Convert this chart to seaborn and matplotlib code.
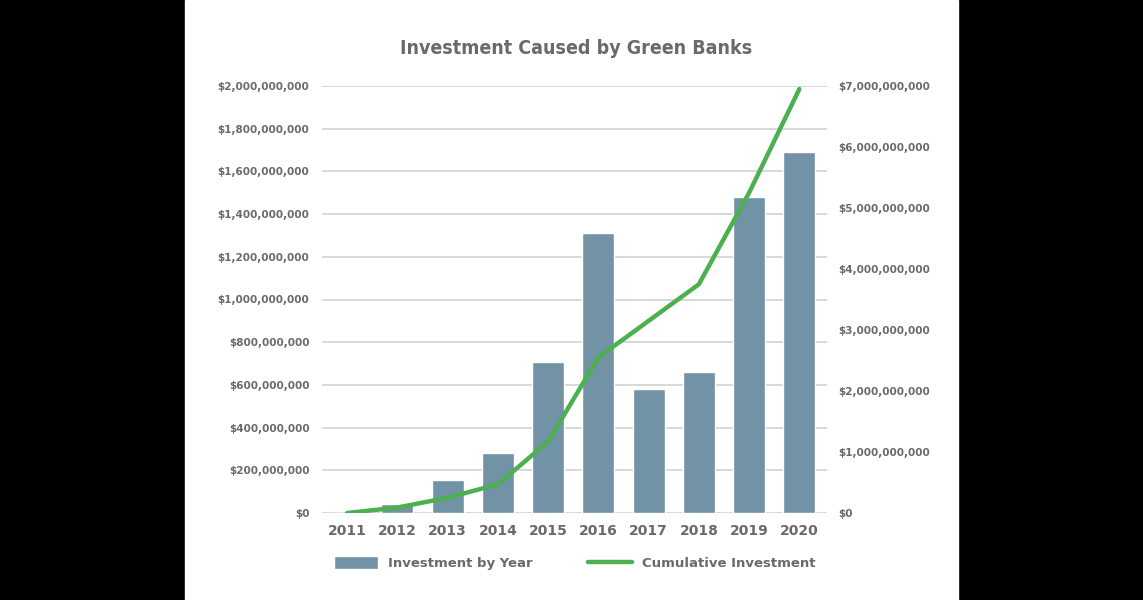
import seaborn as sns
import matplotlib.pyplot as plt
import matplotlib.ticker as mticker
from matplotlib.patches import Rectangle
import pandas as pd

years = ["2011", "2012", "2013", "2014", "2015", "2016", "2017", "2018", "2019", "2020"]
by_year = [0, 42e6, 155e6, 281e6, 707e6, 1311e6, 581e6, 660e6, 1480e6, 1691e6]
cumulative = [0, 0.09e9, 0.25e9, 0.47e9, 1.17e9, 2.55e9, 3.15e9, 3.75e9, 5.25e9, 6.95e9]

df = pd.DataFrame({"year": years, "by_year": by_year, "cumulative": cumulative})

sns.set_theme(style="white")
plt.rcParams['font.family'] = ['DejaVu Sans']

grey = "#6a6a6a"
bar_color = "#7293a6"
line_color = "#4caf50"

fig = plt.figure(figsize=(11.43, 6), dpi=100)
fig.set_facecolor("black")
# white card in the middle, black bands on both sides
fig.patches.append(Rectangle((185 / 1143, 0), (958 - 185) / 1143, 1,
                             transform=fig.transFigure, color="white", zorder=-1))

ax = fig.add_axes([322 / 1143, 1 - 513 / 600, (827 - 322) / 1143, (513 - 86) / 600])
ax.set_facecolor("none")
sns.barplot(data=df, x="year", y="by_year", color=bar_color, saturation=1,
            width=0.64, ax=ax, label="Investment by Year")
ax.set_ylim(0, 2e9)
ax.set_xlim(-0.5, 9.55)
ax.yaxis.set_major_locator(mticker.MultipleLocator(2e8))
ax.yaxis.set_major_formatter(mticker.FuncFormatter(lambda v, p: "\\$" + f"{v:,.0f}"))
ax.grid(axis="y", color="#d6d6d6", linewidth=1.3)
ax.set_axisbelow(True)
ax.set_xlabel("")
ax.set_ylabel("")
for s in ax.spines.values():
    s.set_visible(False)
ax.tick_params(axis="y", length=0, pad=9, labelsize=7.5, labelcolor=grey)
ax.tick_params(axis="x", length=0, pad=8, labelsize=10, labelcolor=grey)
for t in ax.get_yticklabels():
    t.set_fontweight("bold")
for t in ax.get_xticklabels():
    t.set_fontweight("bold")

ax2 = ax.twinx()
sns.lineplot(data=df, x="year", y="cumulative", color=line_color, linewidth=3.2,
             ax=ax2, label="Cumulative Investment", legend=False)
ax2.set_ylim(0, 7e9)
ax2.set_xlim(-0.5, 9.55)
ax2.yaxis.set_major_locator(mticker.MultipleLocator(1e9))
ax2.yaxis.set_major_formatter(mticker.FuncFormatter(lambda v, p: "\\$" + f"{v:,.0f}"))
ax2.set_ylabel("")
ax2.grid(False)
for s in ax2.spines.values():
    s.set_visible(False)
ax2.tick_params(axis="y", length=0, pad=8, labelsize=7.5, labelcolor=grey)
for t in ax2.get_yticklabels():
    t.set_fontweight("bold")
if ax.get_legend() is not None:
    ax.get_legend().remove()

h1, l1 = ax.get_legend_handles_labels()
h2, l2 = ax2.get_legend_handles_labels()
leg = fig.legend(h1 + h2, l1 + l2, loc="center", bbox_to_anchor=(575 / 1143, 1 - 563 / 600),
                 ncol=2, frameon=False, handlelength=3.3, handleheight=1.15,
                 columnspacing=4.2, handletextpad=0.8,
                 prop={"size": 9.5, "weight": "bold"})
for t in leg.get_texts():
    t.set_color(grey)

fig.text(576 / 1143, 1 - 48 / 600, "Investment Caused by Green Banks", ha="center", va="center",
         fontsize=14, fontweight="bold", fontstretch="condensed", color=grey,
         family=["DejaVu Sans"])

fig.savefig("out.png", dpi=100, facecolor=fig.get_facecolor())
